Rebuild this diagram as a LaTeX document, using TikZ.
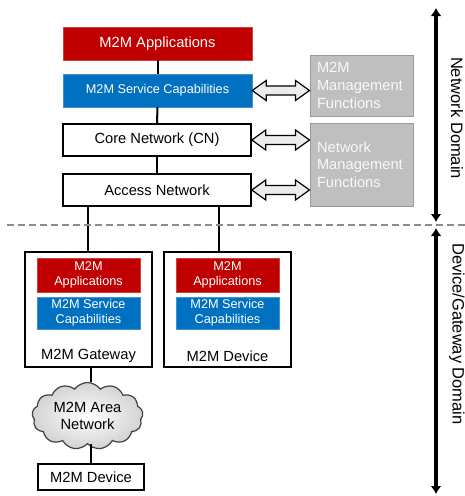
\documentclass[tikz,border=0pt]{standalone}
\usepackage{fontspec}
\setmainfont{Liberation Sans}
\usetikzlibrary{calc,shapes.symbols,arrows.meta}
\definecolor{m2mred}{RGB}{192,0,0}
\definecolor{m2mblue}{RGB}{0,112,192}
\definecolor{mgmtgray}{RGB}{191,191,191}
\definecolor{dashgray}{RGB}{140,140,140}
\newcommand{\bigfont}{\fontsize{14.7}{17.7}\selectfont}
\newcommand{\smallfont}{\fontsize{12.7}{15}\selectfont}
% block double arrow between two points at the same height
\newcommand{\dblarrow}[2]{%
\draw[blockarr] (#1) -- ($(#1)+(14,-10)$) -- ($(#1)+(14,-4.5)$) -- ($(#2)+(-14,-4.5)$)
  -- ($(#2)+(-14,-10)$) -- (#2) -- ($(#2)+(-14,10)$) -- ($(#2)+(-14,4.5)$)
  -- ($(#1)+(14,4.5)$) -- ($(#1)+(14,10)$) -- cycle;}

\begin{document}
\begin{tikzpicture}[x=1pt,y=-1pt,
  redbox/.style={fill=m2mred,draw=m2mred!75!white,text=white,align=center,inner sep=0pt},
  bluebox/.style={fill=m2mblue,draw=m2mblue!75!white,text=white,align=center,inner sep=0pt},
  netbox/.style={draw=black,line width=1.6pt,fill=white,align=center,inner sep=0pt,font=\bigfont},
  mgmtbox/.style={fill=mgmtgray,draw=gray!80,line width=1pt,text=white!95!gray,align=left,
    text width=89pt,inner xsep=7pt,font=\bigfont},
  blockarr/.style={draw=black,line width=1.2pt,fill=gray!15,line join=miter},
  link/.style={draw=black,line width=2pt},
  domarrow/.style={line width=3.5pt,{Latex[length=8pt,width=11pt]}-{Latex[length=8pt,width=11pt]}},
  dashline/.style={draw=dashgray,line width=2pt,dash pattern=on 7pt off 4pt}]
\useasboundingbox (0,0) rectangle (465,496);

% network domain
\node[redbox,minimum width=189,minimum height=33,font=\bigfont] (app) at (157.5,43.5) {M2M Applications};
\node[bluebox,minimum width=189,minimum height=33,font=\smallfont] (sc) at (157.5,90.5) {M2M Service Capabilities};
\node[netbox,minimum width=188,minimum height=32] (cn) at (157,140) {Core Network (CN)};
\node[netbox,minimum width=188,minimum height=32] (an) at (157,190) {Access Network};
\node[mgmtbox,minimum height=61] (mm) at (361.5,85.5) {M2M\\Management\\Functions};
\node[mgmtbox,minimum height=83] (nm) at (361.5,164.5) {Network\\Management\\Functions};

\draw[link] (app) -- (sc);
\draw[link] (sc) -- (cn);
\draw[link] (cn) -- (an);

\dblarrow{sc.east}{sc.east -| mm.west}
\dblarrow{cn.east}{cn.east -| nm.west}
\dblarrow{an.east}{an.east -| nm.west}

% device and gateway domain
\node[netbox,minimum width=127,minimum height=115] (gw) at (88.5,309.5) {};
\node[redbox,minimum width=103,minimum height=34,font=\smallfont] (gwapp) at (88.5,275) {M2M\\Applications};
\node[bluebox,minimum width=103,minimum height=32,font=\smallfont] (gwsc) at (88.5,313) {M2M Service\\Capabilities};
\node[font=\bigfont] (gwlbl) at (88.5,356) {M2M Gateway};

\node[netbox,minimum width=127,minimum height=115] (dev) at (227.5,309.5) {};
\node[redbox,minimum width=103,minimum height=34,font=\smallfont] (devapp) at (227.5,275) {M2M\\Applications};
\node[bluebox,minimum width=103,minimum height=32,font=\smallfont] (devsc) at (227.5,313) {M2M Service\\Capabilities};
\node[font=\bigfont] (devlbl) at (227.5,356) {M2M Device};

\node[cloud,cloud puffs=13,cloud puff arc=110,aspect=1.7,minimum width=111,minimum height=67,
  inner sep=0pt,draw=gray!50!black,line width=1.2pt,inner color=white,outer color=gray!35,
  align=center,font=\bigfont] (area) at (87.5,416) {M2M Area\\Network};
\node[netbox,minimum width=106,minimum height=26] (mdev) at (91,477) {M2M Device};

\draw[link] ([xshift=-0.5pt]an.south -| gw.north) -- ([xshift=-0.5pt]gw.north);
\draw[link] ([xshift=-8.5pt]dev.north |- an.south) -- ([xshift=-8.5pt]dev.north);
\draw[link] ([xshift=2.5pt]gw.south) -- ([xshift=2.5pt]gw.south |- area.north);
\draw[link] (area.south -| mdev.north) -- (mdev.north);

% domain borders
\coordinate (dl) at (7,225);
\coordinate (dr) at (465,225);
\draw[dashline] (dl) -- (dr);
\coordinate (ntop) at (436,8);
\coordinate (nbot) at (436,222);
\coordinate (dtop) at (436,228);
\coordinate (dbot) at (436,494);
\draw[domarrow] (ntop) -- (nbot);
\draw[domarrow] (dtop) -- (dbot);
\node[rotate=-90,font=\fontsize{16.5}{19}\selectfont] (ndom) at (457,118) {Network Domain};
\node[rotate=-90,font=\fontsize{16.5}{19}\selectfont] (ddom) at (457,334) {Device/Gateway Domain};
\end{tikzpicture}
\end{document}
